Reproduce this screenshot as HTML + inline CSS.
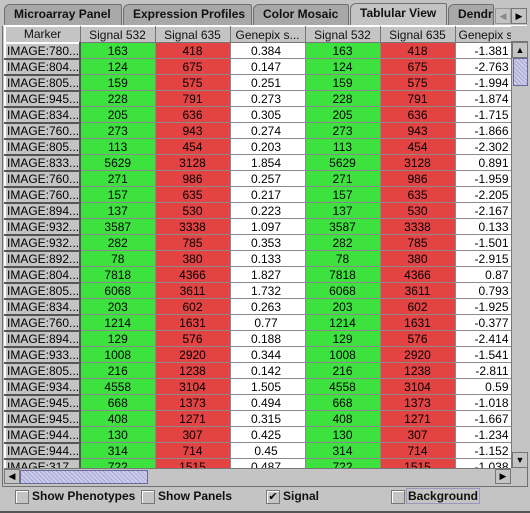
<!DOCTYPE html>
<html><head><meta charset="utf-8"><style>
*{box-sizing:border-box;margin:0;padding:0}
body{width:530px;height:513px;background:#c4c4c4;font-family:"Liberation Sans",sans-serif;position:relative;overflow:hidden}
.tab{position:absolute;top:4px;height:21px;border:1px solid #707070;border-bottom:none;border-radius:6px 2px 0 0;background:#a8a8a8;font-weight:bold;font-size:12px;line-height:19px;padding-left:9px;color:#111;overflow:hidden;white-space:nowrap}
.tab.sel{background:#c4c4c4;top:3px;height:23px}
#panel{position:absolute;left:2px;top:25px;width:526px;height:462px;border:1px solid #707070;border-top:1px solid #fff}
#view{position:absolute;left:4px;top:26px;width:507px;height:442px;overflow:hidden;background:#fff}
table{border-collapse:collapse;table-layout:fixed;font-size:12px;width:507px}
td,th{height:16px;padding:0;border:1px solid #8a8a8a;white-space:nowrap;overflow:hidden}
th{background:#c4c4c4;font-weight:normal;border:1px solid;border-color:#fff #777 #777 #fff;text-align:center;color:#111}
td.m{background:#c4c4c4;border:2px solid;border-color:#fff #555 #555 #fff;padding-left:1px;text-align:left}
td.g{background:#3ee23e;text-align:center}
td.r{background:#e34343;text-align:center}
td.w{background:#fff;text-align:right;padding-right:3px}
td.c{text-align:center}
.cb{position:absolute;top:490px;width:14px;height:14px;border:1px solid #777;background:#c4c4c4;box-shadow:inset 1px 1px 0 #fff}
.lbl{position:absolute;top:489px;font-weight:bold;font-size:12px;color:#111}
</style></head><body>
<div class="tab" style="left:4px;width:118px">Microarray Panel</div>
<div class="tab" style="left:123px;width:129px">Expression Profiles</div>
<div class="tab" style="left:253px;width:96px">Color Mosaic</div>
<div class="tab sel" style="left:350px;width:97px">Tablular View</div>
<div class="tab" style="left:448px;width:46px">Dendr</div>
<div style="position:absolute;left:495px;top:8px;width:16px;height:16px;border:1px solid #999;background:#c4c4c4;font-size:9px;color:#888;text-align:center;line-height:14px">◀</div>
<div style="position:absolute;left:511px;top:8px;width:16px;height:16px;border:1px solid #777;background:#c4c4c4;font-size:9px;text-align:center;line-height:14px">▶</div>
<div id="panel"></div>
<div id="view"><table id="t">
<colgroup><col style="width:75px"><col style="width:75px"><col style="width:75px"><col style="width:75px"><col style="width:75px"><col style="width:75px"><col style="width:57px"></colgroup>
<tr><th>Marker</th><th>Signal 532</th><th>Signal 635</th><th>Genepix s...</th><th>Signal 532</th><th>Signal 635</th><th style="text-align:left;padding-left:3px">Genepix s</th></tr>
</table></div>
<div style="position:absolute;left:511px;top:26px;width:17px;height:16px;background:#c4c4c4;border-bottom:1px solid #777"></div>
<div style="position:absolute;left:511px;top:42px;width:17px;height:426px;background:#c4c4c4;border-left:1px solid #777">
<div style="position:absolute;top:0;left:0;width:16px;height:16px;border:1px solid #777;font-size:9px;text-align:center;line-height:14px">▲</div>
<div style="position:absolute;top:16px;left:1px;width:15px;height:28px;background:repeating-linear-gradient(45deg,#a8a8cc 0 1px,#ccccee 1px 3px);border:1px solid #6a6a99"></div>
<div style="position:absolute;bottom:0;left:0;width:16px;height:16px;border:1px solid #777;font-size:9px;text-align:center;line-height:14px">▼</div></div>
<div style="position:absolute;left:4px;top:468px;width:507px;height:16px;background:#c4c4c4;border-top:1px solid #777">
<div style="position:absolute;left:0;top:0;width:16px;height:15px;border:1px solid #777;font-size:9px;text-align:center;line-height:13px">◀</div>
<div style="position:absolute;left:16px;top:1px;width:128px;height:14px;background:repeating-linear-gradient(45deg,#a8a8cc 0 1px,#ccccee 1px 3px);border:1px solid #6a6a99"></div>
<div style="position:absolute;right:0;top:0;width:16px;height:15px;border:1px solid #777;font-size:9px;text-align:center;line-height:13px">▶</div></div>
<div class="cb" style="left:15px"></div><div class="lbl" style="left:32px">Show Phenotypes</div>
<div class="cb" style="left:141px"></div><div class="lbl" style="left:158px">Show Panels</div>
<div class="cb" style="left:266px;font-size:11px;line-height:12px;text-align:center">✔</div><div class="lbl" style="left:283px">Signal</div>
<div class="cb" style="left:391px"></div><div class="lbl" style="left:406px;border:1px solid #9999bb;padding:0 1px;top:488px">Background</div>
<div style="position:absolute;left:0;top:511px;width:530px;height:2px;background:#555"></div>
<script>
const markers=["IMAGE:780...","IMAGE:804...","IMAGE:805...","IMAGE:945...","IMAGE:834...","IMAGE:760...","IMAGE:805...","IMAGE:833...","IMAGE:760...","IMAGE:760...","IMAGE:894...","IMAGE:932...","IMAGE:932...","IMAGE:892...","IMAGE:804...","IMAGE:805...","IMAGE:834...","IMAGE:760...","IMAGE:894...","IMAGE:933...","IMAGE:805...","IMAGE:934...","IMAGE:945...","IMAGE:945...","IMAGE:944...","IMAGE:944...","IMAGE:317..."];
const sig532=[163,124,159,228,205,273,113,5629,271,157,137,3587,282,78,7818,6068,203,1214,129,1008,216,4558,668,408,130,314,722];
const sig635=[418,675,575,791,636,943,454,3128,986,635,530,3338,785,380,4366,3611,602,1631,576,2920,1238,3104,1373,1271,307,714,1515];
const genepix=["0.384","0.147","0.251","0.273","0.305","0.274","0.203","1.854","0.257","0.217","0.223","1.097","0.353","0.133","1.827","1.732","0.263","0.77","0.188","0.344","0.142","1.505","0.494","0.315","0.425","0.45","0.487"];
const logRatio=["-1.381","-2.763","-1.994","-1.874","-1.715","-1.866","-2.302","0.891","-1.959","-2.205","-2.167","0.133","-1.501","-2.915","0.87","0.793","-1.925","-0.377","-2.414","-1.541","-2.811","0.59","-1.018","-1.667","-1.234","-1.152","-1.038"];
const t=document.getElementById('t');
markers.forEach((m,i)=>{
const tr=document.createElement('tr');


const cells=[[m,'m'],[sig532[i],'g'],[sig635[i],'r'],[genepix[i],'w c'],[sig532[i],'g'],[sig635[i],'r'],[logRatio[i],'w']];
cells.forEach(([v,c],j)=>{
const td=document.createElement('td');
td.className=c;td.textContent=v;


tr.appendChild(td);});
t.appendChild(tr);});
</script>
</body></html>
